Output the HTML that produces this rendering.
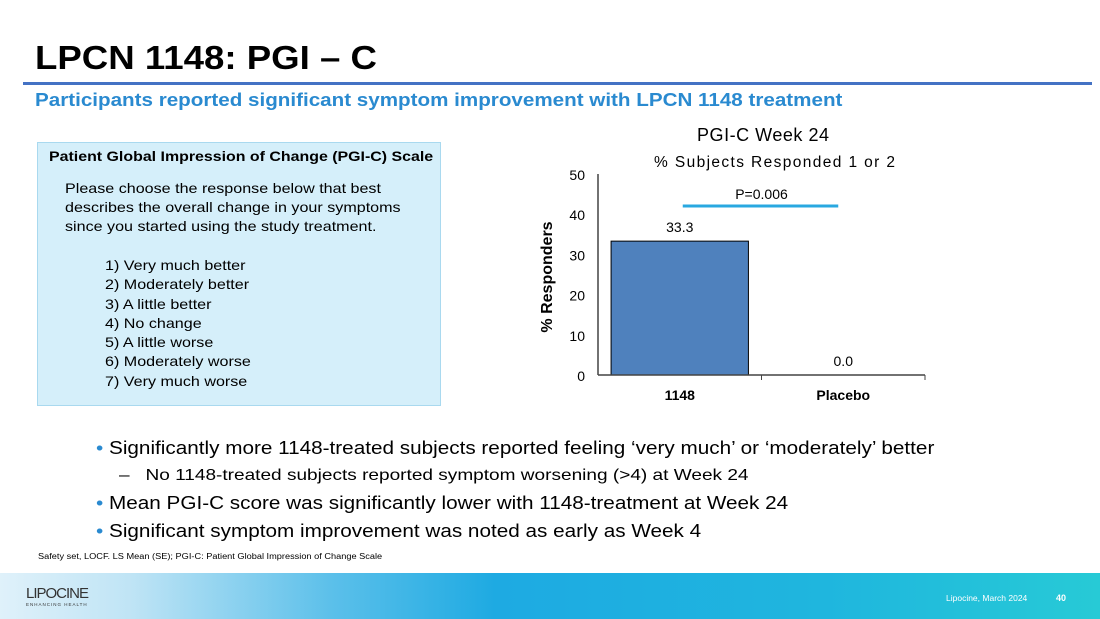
<!DOCTYPE html>
<html><head><meta charset="utf-8"><style>
*{margin:0;padding:0;box-sizing:border-box}
body{width:1100px;height:619px;overflow:hidden;background:#fff;font-family:"Liberation Sans",Arial,sans-serif;position:relative;color:#000}
.abs{position:absolute;white-space:nowrap}
.sx{transform-origin:0 0;transform:scaleX(1.15)}
</style></head><body>
<div class="abs sx" style="left:35px;top:38px;font-size:33px;font-weight:bold;line-height:40px;transform:scaleX(1.11)">LPCN 1148: PGI – C</div>
<div class="abs" style="left:23px;top:82px;width:1069px;height:3px;background:#4472c4"></div>
<div class="abs sx" style="left:35px;top:89px;font-size:18px;font-weight:bold;color:#2a8ad0;line-height:22px;transform:scaleX(1.145)">Participants reported significant symptom improvement with LPCN 1148 treatment</div>

<div class="abs" style="left:37px;top:142px;width:404px;height:264px;background:#d5effa;border:1px solid #a9d9ef">
 <div class="abs sx" style="left:11px;top:6px;font-size:13.5px;font-weight:bold;line-height:16px;transform:scaleX(1.18)">Patient Global Impression of Change (PGI-C) Scale</div>
 <div class="abs sx" style="left:27px;top:36px;font-size:14px;line-height:19px">Please choose the response below that best<br>describes the overall change in your symptoms<br>since you started using the study treatment.</div>
 <div class="abs sx" style="left:67px;top:113px;font-size:14px;line-height:19.3px">1) Very much better<br>2) Moderately better<br>3) A little better<br>4) No change<br>5) A little worse<br>6) Moderately worse<br>7) Very much worse</div>
</div>

<svg class="abs" style="left:0;top:0" width="1100" height="619">
<text x="697" y="141" font-size="18" textLength="132">PGI-C Week 24</text>
<text x="654" y="167" font-size="15.5" textLength="241">% Subjects Responded 1 or 2</text>
<text transform="translate(552,277) rotate(-90)" font-size="16" font-weight="bold" text-anchor="middle">% Responders</text>
<g id="g"></g>
</svg>

<div class="abs" style="left:96px;top:437px;font-size:18px;line-height:22px">
 <div class="sx"><span style="color:#2a8ad0">•</span> Significantly more 1148-treated subjects reported feeling ‘very much’ or ‘moderately’ better</div>
 <div style="margin-left:23px;margin-top:6px;font-size:16px;transform-origin:0 0;transform:scaleX(1.19)">–&nbsp;&nbsp;&nbsp;No 1148-treated subjects reported symptom worsening (&gt;4) at Week 24</div>
 <div class="sx" style="margin-top:5px"><span style="color:#2a8ad0">•</span> Mean PGI-C score was significantly lower with 1148-treatment at Week 24</div>
 <div class="sx" style="margin-top:6px"><span style="color:#2a8ad0">•</span> Significant symptom improvement was noted as early as Week 4</div>
</div>
<div class="abs sx" style="left:38px;top:552px;font-size:8px">Safety set, LOCF. LS Mean (SE); PGI-C: Patient Global Impression of Change Scale</div>

<div class="abs" style="left:0;top:573px;width:1100px;height:46px;background:linear-gradient(90deg,#dff1fa 0%,#bfe4f5 12%,#5cc0ea 30%,#1eaae2 45%,#1fb6de 75%,#27cad6 100%)">
 <div class="abs" style="left:26px;top:12px;font-size:15px;letter-spacing:-1px;color:#333;font-weight:300">LIPOCINE</div>
 <div class="abs" style="left:26px;top:29px;font-size:4.5px;letter-spacing:1px;color:#333">ENHANCING HEALTH</div>
 <div class="abs" style="left:946px;top:20px;font-size:8.5px;color:#fff">Lipocine, March 2024</div>
 <div class="abs" style="left:1056px;top:20px;font-size:9px;color:#fff;font-weight:bold">40</div>
</div>

<script>
const categories=["1148","Placebo"];
const values=[33.3,0.0];
const valueLabels=["33.3","0.0"];
const yTicks=[0,10,20,30,40,50];
const pLabel="P=0.006";
const x0=598,x1=925,y0=375,yTop=174,yMax=50;
const ns="http://www.w3.org/2000/svg";
const g=document.getElementById('g');
function y(v){return y0-(v/yMax)*(y0-yTop);}
const band=(x1-x0)/categories.length;
function xc(i){return x0+band*(i+0.5);}
function mk(t,a){const e=document.createElementNS(ns,t);for(const k in a)e.setAttribute(k,a[k]);g.appendChild(e);return e;}
yTicks.forEach(t=>{
 const e=mk('text',{x:585,y:y(t)+6,'font-size':14,'text-anchor':'end'});e.textContent=t;
 
 
});
categories.forEach((c,i)=>{
 const w=band*0.84;
 const b=mk('rect',{x:xc(i)-w/2,y:y(values[i]),width:w,height:y0-y(values[i]),fill:'#4f81bd',stroke:'#000','stroke-width':1});
 
 
 const l=mk('text',{x:xc(i),y:y(values[i])-9,'font-size':14,'text-anchor':'middle'});l.textContent=valueLabels[i];
 
 
 const cl=mk('text',{x:xc(i),y:400,'font-size':14,'font-weight':'bold','text-anchor':'middle'});cl.textContent=c;
 
 
});
const ya=mk('line',{x1:x0,y1:yTop,x2:x0,y2:y0,stroke:'#444','stroke-width':1.5});


const xa=mk('line',{x1:x0,y1:y0,x2:x1,y2:y0,stroke:'#444','stroke-width':1.5});


[x0+band,x1].forEach(x=>{const t=mk('line',{x1:x,y1:y0,x2:x,y2:y0+5,stroke:'#444','stroke-width':1});
 
 });
const pl=mk('line',{x1:xc(0)+3,y1:206,x2:xc(1)-5,y2:206,stroke:'#29a8e0','stroke-width':3});


const pt=mk('text',{x:(xc(0)+xc(1))/2,y:199,'font-size':14,'text-anchor':'middle'});pt.textContent=pLabel;


</script>
</body></html>
